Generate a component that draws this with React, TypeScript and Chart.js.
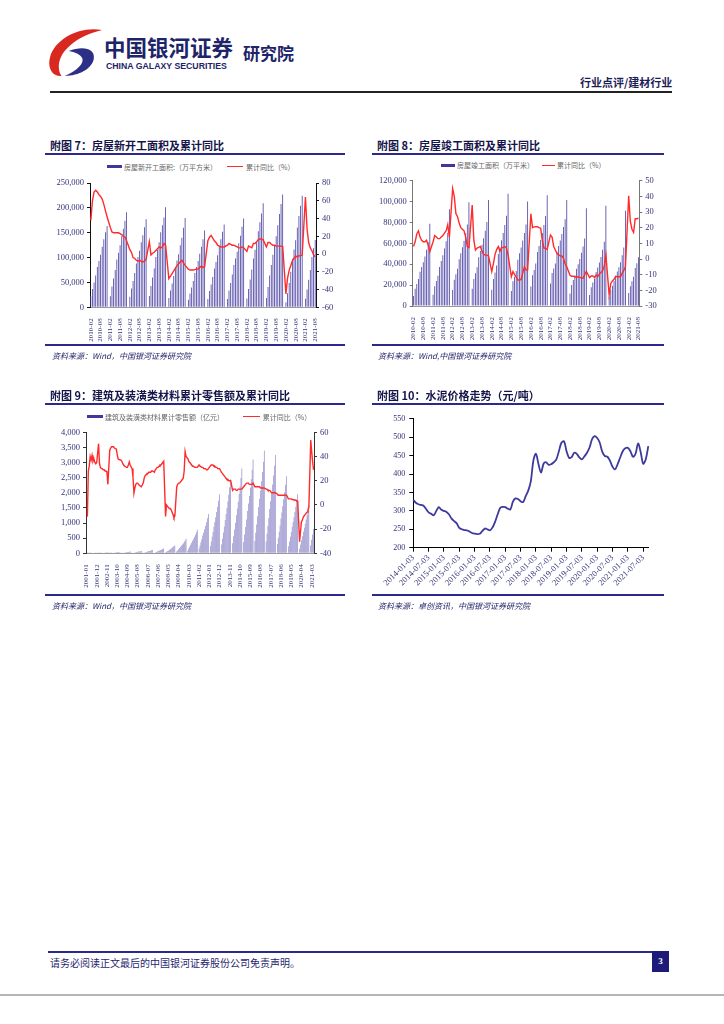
import React, { useEffect, useRef } from "react";
import { Chart, registerables } from "chart.js";
Chart.register(...registerables);

const FONT_CJK = "'Noto Sans CJK SC', sans-serif";
const FONT_NUM = "'Liberation Serif', serif";
const NAVY = "#2b2a8c";
const BAR_COLOR = "#3f3799";
const RED = "#ff2b2b";
const TICK_COLOR = "#33337a";

function monthRange(start: string, end: string): string[] {
  const [sy, sm] = start.split("-").map(Number);
  const [ey, em] = end.split("-").map(Number);
  const out: string[] = [];
  let y = sy, m = sm;
  while (y < ey || (y === ey && m <= em)) {
    out.push(`${y}-${String(m).padStart(2, "0")}`);
    m++;
    if (m > 12) { m = 1; y++; }
  }
  return out;
}

// ---------- Chart 7: 房屋新开工面积 ----------
const MONTHS_7 = monthRange("2010-02", "2021-08");
const XTICKS_7 = ["2010-02","2010-08","2011-02","2011-08","2012-02","2012-08","2013-02","2013-08","2014-02","2014-08","2015-02","2015-08","2016-02","2016-08","2017-02","2017-08","2018-02","2018-08","2019-02","2019-08","2020-02","2020-08","2021-02","2021-08"];
const NEW_STARTS = [
  22000, 37000, 50000, 64000, 81000, 93000, 106000, 122000, 137000, 151000, 163600,
  null, 22300, 42000, 58000, 75000, 96000, 110000, 125000, 143000, 158000, 174000, 191200,
  null, 21000, 38000, 53000, 69000, 88000, 101000, 114000, 131000, 145000, 161000, 177300,
  null, 22800, 43000, 60000, 78000, 101000, 116000, 131000, 151000, 165000, 181000, 201200,
  null, 18600, 34000, 48000, 63000, 81000, 94000, 107000, 125000, 140000, 160000, 179600,
  null, 15000, 28000, 40000, 53000, 69000, 81000, 93000, 108000, 122000, 137000, 154500,
  null, 16900, 33000, 46000, 61000, 78000, 91000, 105000, 122000, 137000, 152000, 166900,
  null, 16800, 34000, 49000, 66000, 85000, 98000, 112000, 129000, 144000, 162000, 178700,
  null, 17700, 37000, 56000, 76000, 98000, 116000, 133000, 153000, 171000, 188900, 209300,
  null, 18800, 41000, 64000, 85000, 106000, 125000, 143000, 165000, 188000, 208000, 227200,
  null, 10400, 28200, 48700, 71400, 97500, 116200, 135100, 160400, 183700, 204200, 224400,
  null, 17000, 36000, 55700, 75000, 101000, 119000, 135500,
];
const NEW_STARTS_YOY = [
  38, 60, 70, 72, 70, 67, 65, 62, 56, 49, 42,
  null, 30, 25, 24, 24, 24, 24, 23, 22, 20, 19, 15,
  null, 5, 2, -4, -5, -7, -8, -7, -8, -9, -8, -6,
  null, 14, -1, 1, 2, 4, 6, 8, 7, 8, 12, 10,
  null, -27.8, -25, -22, -19, -16, -13, -11, -9, -7, -10, -12.8,
  null, -17, -18, -18, -18, -17.5, -17, -17, -15, -13.6, -15, -14,
  null, 15, 19, 21, 18, 15, 13, 10, 9, 8, 8, 8,
  null, 10, 12, 11, 10, 10, 9, 8, 7, 7, 8, 7,
  null, 3, 9, 8, 7, 12, 12, 14, 16, 17, 17, 16,
  null, 8, 13, 13, 11, 10, 10, 9, 9, 9, 9, 8.5,
  null, -44.9, -27.2, -18.4, -12.8, -7.6, -4.5, -2.1, -3.4, -1.8, -2, -1.2,
  null, 64.3, 28.2, 12.8, 6.9, 3.8, -0.9, -3.2,
];

// ---------- Chart 8: 房屋竣工面积 ----------
const MONTHS_8 = monthRange("2010-02", "2021-08");
const XTICKS_8 = XTICKS_7;
const COMPLETIONS = [
  9600, 16500, 21000, 25800, 32800, 37300, 42000, 47500, 53800, 61000, 78700,
  null, 10700, 19000, 24000, 29000, 37300, 43000, 48700, 55000, 62000, 70200, 92600,
  null, 15400, 25200, 30500, 35600, 44800, 50500, 56200, 62500, 69700, 78000, 99400,
  null, 16600, 25900, 31300, 37000, 46600, 52600, 58700, 65000, 72000, 80500, 101400,
  null, 15500, 25800, 32000, 38900, 49900, 56300, 63000, 70000, 77600, 86500, 107500,
  null, 14400, 23600, 28000, 33500, 44400, 50500, 56000, 62800, 70000, 78000, 100000,
  null, 18600, 29500, 34500, 40600, 51800, 57400, 63200, 70000, 77600, 86100, 106100,
  null, 21500, 31500, 36000, 40800, 51800, 57500, 62700, 69000, 75600, 83000, 101500,
  null, 12000, 20000, 25000, 29500, 35700, 40000, 45000, 51000, 57000, 64700, 93500,
  null, 10600, 18000, 22600, 26300, 32500, 36900, 41600, 47000, 53800, 61500, 95900,
  null, 8800, 15400, 19400, 24000, 28600, 33000, 37000, 42000, 48700, 56000, 91200,
  null, 12400, 19000, 23700, 28000, 36500, 41000, 46700,
];
const COMPLETIONS_YOY = [
  8, 11, 16, 18, 14, 12, 11, 11, 12, 9, 4.7,
  null, 11, 15, 14, 13, 13, 14, 15, 16.5, 18, 22, 14,
  null, 45, 40, 29, 27, 23, 20, 19, 18, 14, 8, 7.3,
  null, 34.5, 12, 5.7, 7, 7.5, 8, 5, 3, 2.6, 2.5, 2,
  null, -8, -3, 3, 6, 8, 5, 7, 7.5, 8, 7, 2.6,
  null, -11.3, -8, -10, -11.5, -13.4, -13.4, -13, -9, -4.9, -7, -6.9,
  null, 28.9, 20, 20.5, 20.6, 20.6, 20, 19.6, 12, 7, 6.8, 6.1,
  null, 15.3, 14, 8, 5.7, 3.5, 2.6, 2, 1.9, 0.4, -3, -5,
  null, -10.4, -11, -11, -11.5, -11.3, -11.5, -11.7, -12, -12.3, -10, -7.8,
  null, -11.9, -10.8, -10.8, -11.7, -10.2, -11.3, -9.5, -8.6, -7.5, -4.5, 2.6,
  null, -22.9, -15.8, -14, -13, -11, -11.3, -11.2, -11.3, -9, -7.3, -4.9,
  null, 40.4, 24, 19, 17, 25.7, 25.7, 26,
];

// ---------- Chart 9: 建筑及装潢类材料 ----------
const MONTHS_9 = monthRange("2001-01", "2021-05");
const XTICKS_9 = ["2001-01","2001-12","2002-11","2003-10","2004-09","2005-08","2006-07","2007-06","2008-05","2009-04","2010-03","2011-02","2012-01","2012-12","2013-11","2014-10","2015-09","2016-08","2017-07","2018-06","2019-05","2020-04","2021-03"];
const RETAIL_SALES = [
  null, 3, 6, 8, 10, 13, 15, 17, 20, 22, 25, 28,
  null, 4, 7, 10, 13, 16, 19, 21, 25, 28, 31, 35,
  null, 5, 9, 13, 16, 20, 24, 27, 32, 36, 40, 45,
  null, 7, 12, 17, 22, 27, 32, 37, 42, 47, 53, 60,
  null, 10, 16, 22, 29, 36, 42, 49, 56, 63, 71, 80,
  null, 13, 22, 31, 40, 50, 58, 67, 77, 87, 98, 110,
  null, 19, 32, 45, 58, 72, 85, 98, 112, 126, 142, 160,
  null, 31, 52, 73, 94, 117, 138, 159, 182, 205, 231, 260,
  null, 58, 96, 134, 173, 216, 254, 293, 336, 379, 427, 480,
  null, 94, 156, 218, 281, 351, 413, 476, 546, 616, 694, 780,
  null, 156, 260, 364, 468, 585, 689, 793, 910, 1027, 1157, 1300,
  null, 234, 390, 546, 702, 878, 1034, 1190, 1365, 1541, 1736, 1950,
  null, 294, 490, 686, 882, 1103, 1299, 1495, 1715, 1936, 2181, 2450,
  null, 336, 560, 784, 1008, 1260, 1484, 1708, 1960, 2212, 2492, 2800,
  null, 372, 620, 868, 1116, 1395, 1643, 1891, 2170, 2449, 2759, 3100,
  null, 408, 680, 952, 1224, 1530, 1802, 2074, 2380, 2686, 3026, 3400,
  null, 390, 650, 910, 1170, 1463, 1723, 1983, 2275, 2568, 2893, 3250,
  null, 306, 510, 714, 918, 1148, 1352, 1556, 1785, 2015, 2270, 2550,
  null, 234, 390, 546, 702, 878, 1034, 1190, 1365, 1541, 1736, 1950,
  null, 150, 290, 430, 560, 710, 845, 980, 1120, 1260, 1420, 1600,
  null, 260, 450, 620, 800,
];
const RETAIL_YOY = [
  null, -9.7, 28, 32, 40, 37, 41, 36, 38, 35, 34, 35,
  null, 50.6, 34, 31, 30, 30, 29, 29, 28, 28, 27, 17,
  null, 45, 47, 48, 48, 48, 47, 46.5, 46.4, 42, 38, 37.5,
  null, 37, 36, 34, 33, 32, 31.5, 31, 31, 33, 35.5, 33,
  null, 30, 23, 9.6, 14, 17, 18, 18, 17, 16, 15.5, 15,
  null, 18, 22, 24, 25, 26, 26, 27, 27, 27, 28, 28,
  null, 27, 29, 30, 31, 31, 32, 33, 33, 34, 35, 36,
  null, -9.6, 0, -1, -2, -3, -3, -4, -6, -8, -10.5, -9,
  null, 15, 17, 18, 18, 19, 20, 21, 22, 28, 44, 40,
  null, 38, 36, 35, 34, 33, 32, 32, 31, 31, 31, 31,
  null, 33, 32, 32, 31, 31, 30, 30, 30, 29, 29, 30,
  null, 32, 33, 33, 33, 32, 32, 31, 31, 30, 30, 30,
  null, 27, 26, 25, 24, 23, 22, 21, 21, 20, 20, 20,
  null, 12, 13, 13, 13, 12, 12, 13, 13, 13, 13, 13,
  null, 15, 16, 17, 18, 18, 18, 17, 17, 17, 17, 18,
  null, 15, 15, 15, 15, 15, 15, 14, 14, 14, 14, 14,
  null, 13, 13, 12, 12, 12, 11, 10, 10, 10, 10, 10,
  null, 9, 8, 8, 8, 8, 8, 8, 8, 8, 8, 8,
  null, 5, 5, 5, 5, 4.5, 4.5, 4, 4, 4, 3, 3,
  null, -30.4, -22, -14, -12.5, -10, -9, -8, -7, -6, -4, -1.6,
  null, 53.6, 44, 36, 29,
];

// ---------- Chart 10: 水泥价格 ----------
const DATES_10 = monthRange("2014-01", "2021-09").map((m) => `${m}-03`);
const XTICKS_10 = ["2014-01-03","2014-07-03","2015-01-03","2015-07-03","2016-01-03","2016-07-03","2017-01-03","2017-07-03","2018-01-03","2018-07-03","2019-01-03","2019-07-03","2020-01-03","2020-07-03","2021-01-03","2021-07-03"];
const CEMENT_PRICE = [
  330, 322, 318, 316, 314, 305, 296, 292, 288, 300, 310, 303,
  300, 297, 290, 279, 272, 266, 254, 250, 248, 247, 244, 240,
  238, 237, 238, 245, 252, 250, 247, 255, 270, 290, 308, 311,
  310, 306, 304, 325, 334, 332, 326, 324, 340, 355, 380, 436,
  455, 427, 404, 428, 432, 425, 427, 432, 440, 462, 485, 489,
  462, 444, 446, 458, 455, 445, 440, 448, 458, 472, 495, 503,
  498, 485, 460, 449, 447, 436, 420, 413, 427, 445, 462, 470,
  471, 462, 447, 455, 483, 460, 428, 440, 476,
];

type Box = { left: number; top: number; width: number; height: number };

function ChartCanvas({ box, make }: { box: Box; make: () => any }) {
  const ref = useRef<HTMLCanvasElement | null>(null);
  useEffect(() => {
    if (!ref.current) return;
    const chart = new Chart(ref.current, make());
    return () => chart.destroy();
  }, []);
  return (
    <div style={{ position: "absolute", left: box.left, top: box.top, width: box.width, height: box.height }}>
      <canvas ref={ref} width={box.width} height={box.height} style={{ display: "block", width: box.width, height: box.height }} />
    </div>
  );
}

const numFmt = (v: any) => Number(v).toLocaleString("en-US");

function dualConfig(p: {
  labels: string[]; xticks: string[]; bars: any[]; line: any[];
  yMax: number; yStep: number; y1Min: number; y1Max: number; y1Step: number;
  leftW: number; rightW: number; xH: number; padTop: number; axisColor: string;
  barPct: number; barColor: string; barLabel: string; lineLabel: string;
}) {
  return {
    type: "bar",
    data: {
      labels: p.labels,
      datasets: [
        { type: "line", label: p.lineLabel, data: p.line, yAxisID: "y1", borderColor: RED, borderWidth: 1.4,
          pointRadius: 0, tension: 0, spanGaps: true, fill: false },
        { type: "bar", label: p.barLabel, data: p.bars, yAxisID: "y", backgroundColor: p.barColor,
          barPercentage: p.barPct, categoryPercentage: 1 },
      ],
    },
    options: {
      responsive: false, maintainAspectRatio: false, animation: false, devicePixelRatio: 1,
      layout: { autoPadding: false, padding: { top: p.padTop, left: 0, right: 0, bottom: 0 } },
      plugins: { legend: { display: false }, tooltip: { enabled: false } },
      scales: {
        x: {
          grid: { display: false },
          border: { display: true, color: "#999", width: 1 },
          afterFit: (s: any) => { s.height = p.xH; },
          ticks: {
            autoSkip: false, maxRotation: 90, minRotation: 90, padding: 3,
            color: TICK_COLOR, font: { family: FONT_NUM, size: 7 },
            callback: function (this: any, value: any) {
              const lab = this.getLabelForValue(value);
              return p.xticks.includes(lab) ? lab : null;
            },
          },
        },
        y: {
          position: "left", min: 0, max: p.yMax,
          grid: { display: true, drawOnChartArea: false, drawTicks: true, tickLength: 3, color: p.axisColor },
          border: { display: true, color: p.axisColor, width: 1 },
          afterFit: (s: any) => { s.width = p.leftW; },
          ticks: { stepSize: p.yStep, padding: 3, color: TICK_COLOR, font: { family: FONT_NUM, size: 8.5 }, callback: numFmt },
        },
        y1: {
          position: "right", min: p.y1Min, max: p.y1Max,
          grid: { display: true, drawOnChartArea: false, drawTicks: true, tickLength: 3, color: p.axisColor },
          border: { display: true, color: p.axisColor, width: 1 },
          afterFit: (s: any) => { s.width = p.rightW; },
          ticks: { stepSize: p.y1Step, padding: 3, color: TICK_COLOR, font: { family: FONT_NUM, size: 8.5 } },
        },
      },
    },
  };
}

function cementConfig() {
  return {
    type: "line",
    data: {
      labels: DATES_10,
      datasets: [
        { label: "水泥价格", data: CEMENT_PRICE, borderColor: "#3d3a9e", borderWidth: 1.8, pointRadius: 0, tension: 0.35, fill: false },
      ],
    },
    options: {
      responsive: false, maintainAspectRatio: false, animation: false, devicePixelRatio: 1,
      layout: { autoPadding: false, padding: { top: 7.7, left: 0, right: 15.7, bottom: 0 } },
      plugins: { legend: { display: false }, tooltip: { enabled: false } },
      scales: {
        x: {
          offset: false,
          grid: { display: true, drawOnChartArea: false, drawTicks: true, tickLength: 4, color: "#000" },
          border: { display: true, color: "#000", width: 1 },
          afterFit: (s: any) => { s.height = 47.3; },
          ticks: {
            autoSkip: false, maxRotation: 45, minRotation: 45, padding: 1,
            color: TICK_COLOR, font: { family: FONT_NUM, size: 8.5 },
            callback: function (this: any, value: any) {
              const lab = this.getLabelForValue(value);
              return XTICKS_10.includes(lab) ? lab : null;
            },
          },
        },
        y: {
          min: 200, max: 550,
          grid: { display: true, drawOnChartArea: false, drawTicks: true, tickLength: 4, color: "#000" },
          border: { display: true, color: "#000", width: 1 },
          afterFit: (s: any) => { s.width = 41.3; },
          ticks: { stepSize: 50, padding: 4, color: TICK_COLOR, font: { family: FONT_NUM, size: 8 } },
        },
      },
    },
  };
}

const abs = (l: number, t: number, extra: any = {}) => ({ position: "absolute" as const, left: l, top: t, ...extra });

function Rule({ l, t, w, h = 2, c = NAVY }: { l: number; t: number; w: number; h?: number; c?: string }) {
  return <div style={abs(l, t, { width: w, height: h, background: c })} />;
}

function Title({ l, t, text }: { l: number; t: number; text: string }) {
  return (
    <div style={abs(l, t, { font: `bold 11px ${FONT_CJK}`, lineHeight: "13px", color: "#14144a", whiteSpace: "nowrap" })}>{text}</div>
  );
}

function Source({ l, t, text }: { l: number; t: number; text: string }) {
  return (
    <div style={abs(l, t, { font: `italic 8px ${FONT_CJK}`, lineHeight: "10px", color: "#1e1e66", whiteSpace: "nowrap" })}>{text}</div>
  );
}

function LegendItem({ l, t, w, h, color, text, tl }: { l: number; t: number; w: number; h: number; color: string; text: string; tl: number }) {
  return (
    <>
      <div style={abs(l, t - h / 2, { width: w, height: h, background: color })} />
      <div style={abs(tl, t - 5, { font: `7px ${FONT_CJK}`, lineHeight: "10px", color: "#666", whiteSpace: "nowrap" })}>{text}</div>
    </>
  );
}

export default function App() {
  return (
    <div style={{ position: "absolute", left: 0, top: 0, width: 724, height: 1024, background: "#fff", overflow: "hidden" }}>
      {/* header */}
      <svg style={abs(45, 27)} width={60} height={52} viewBox="0 0 56 50">
        <path d="M54 3 C33 -1, 9 11, 4 29 C1 40, 7 48, 15 47 C10 40, 12 27, 23 18 C32 10, 43 6, 54 3 Z" fill="#d8281f" />
        <path d="M22 23 C35 18, 48 20, 46 31 C44 40, 32 47, 18 47 C30 42, 37 35, 35 30 C33 26, 28 24, 22 23 Z" fill="#2b2f86" />
      </svg>
      <div style={abs(104, 34, { font: `bold 21.5px ${FONT_CJK}`, lineHeight: "26px", color: "#1d2468", whiteSpace: "nowrap" })}>中国银河证券</div>
      <div style={abs(106, 61, { font: "bold 9px 'Liberation Sans', sans-serif", lineHeight: "11px", color: "#1d2468", whiteSpace: "nowrap", transform: "scaleX(0.97)", transformOrigin: "left" })}>CHINA GALAXY SECURITIES</div>
      <div style={abs(243, 43, { font: `bold 17px ${FONT_CJK}`, lineHeight: "20px", color: "#1d2468", whiteSpace: "nowrap" })}>研究院</div>
      <div style={abs(580, 75, { font: `bold 11px ${FONT_CJK}`, lineHeight: "14px", color: "#1d1d55", whiteSpace: "nowrap" })}>行业点评/建材行业</div>
      <Rule l={50} t={91} w={622} h={2} c="#222" />

      {/* chart 7 */}
      <Title l={50} t={138.5} text="附图 7：房屋新开工面积及累计同比" />
      <Rule l={45} t={153.3} w={300} />
      <LegendItem l={107} t={166.7} w={15} h={3} color={BAR_COLOR} text="房屋新开工面积:（万平方米）" tl={124} />
      <LegendItem l={227} t={166.7} w={16} h={1.5} color={RED} text="累计同比（%）" tl={246} />
      <ChartCanvas box={{ left: 45, top: 175, width: 300, height: 170 }} make={() => dualConfig({
        labels: MONTHS_7, xticks: XTICKS_7, bars: NEW_STARTS, line: NEW_STARTS_YOY,
        yMax: 250000, yStep: 50000, y1Min: -60, y1Max: 80, y1Step: 20,
        leftW: 45, rightW: 29, xH: 37.7, padTop: 7.5, axisColor: "#111", barPct: 0.5, barColor: "#4a42a3",
        barLabel: "房屋新开工面积:（万平方米）", lineLabel: "累计同比（%）",
      })} />
      <Rule l={45} t={344.3} w={300} />
      <Source l={52} t={351} text="资料来源：Wind，中国银河证券研究院" />

      {/* chart 8 */}
      <Title l={377} t={138.5} text="附图 8：房屋竣工面积及累计同比" />
      <Rule l={372} t={153.3} w={291.5} />
      <LegendItem l={441} t={165.3} w={14} h={3} color={BAR_COLOR} text="房屋竣工面积（万平米）" tl={457} />
      <LegendItem l={541.5} t={165.3} w={13.5} h={1.5} color={RED} text="累计同比（%）" tl={557} />
      <ChartCanvas box={{ left: 372, top: 172, width: 292, height: 173 }} make={() => dualConfig({
        labels: MONTHS_8, xticks: XTICKS_8, bars: COMPLETIONS, line: COMPLETIONS_YOY,
        yMax: 120000, yStep: 20000, y1Min: -30, y1Max: 50, y1Step: 10,
        leftW: 40.7, rightW: 24.7, xH: 39, padTop: 8.7, axisColor: "#777", barPct: 0.5, barColor: "#4a42a3",
        barLabel: "房屋竣工面积（万平米）", lineLabel: "累计同比（%）",
      })} />
      <Rule l={372} t={344.3} w={291.5} />
      <Source l={378} t={351} text="资料来源：Wind,中国银河证券研究院" />

      {/* chart 9 */}
      <Title l={50} t={388.5} text="附图 9：建筑及装潢类材料累计零售额及累计同比" />
      <Rule l={45} t={403} w={300} />
      <LegendItem l={86.7} t={416.7} w={16.6} h={3} color={BAR_COLOR} text="建筑及装潢类材料累计零售额（亿元）" tl={105} />
      <LegendItem l={243} t={416.7} w={17} h={1.5} color={RED} text="累计同比（%）" tl={262.7} />
      <ChartCanvas box={{ left: 45, top: 424, width: 300, height: 170 }} make={() => dualConfig({
        labels: MONTHS_9, xticks: XTICKS_9, bars: RETAIL_SALES, line: RETAIL_YOY,
        yMax: 4000, yStep: 500, y1Min: -40, y1Max: 60, y1Step: 10,
        leftW: 41, rightW: 31, xH: 40.7, padTop: 8.3, axisColor: "#333", barPct: 0.55, barColor: "#6a63b6",
        barLabel: "建筑及装潢类材料累计零售额（亿元）", lineLabel: "累计同比（%）",
      })} />
      <Rule l={45} t={594} w={300} />
      <Source l={52} t={601} text="资料来源：Wind，中国银河证券研究院" />

      {/* chart 10 */}
      <Title l={377} t={388.5} text="附图 10：水泥价格走势（元/吨）" />
      <Rule l={372} t={403} w={291.5} />
      <ChartCanvas box={{ left: 372, top: 410, width: 292, height: 185 }} make={cementConfig} />
      <Rule l={372} t={594} w={291.5} />
      <Source l={378} t={601} text="资料来源：卓创资讯，中国银河证券研究院" />

      {/* footer */}
      <Rule l={48} t={951} w={605} h={2} />
      <div style={abs(652, 951, { width: 17, height: 21, background: "#1e1a78", color: "#fff", font: "bold 9px 'Liberation Serif', serif", lineHeight: "21px", textAlign: "center" })}>3</div>
      <div style={abs(50, 956, { font: `10px ${FONT_CJK}`, lineHeight: "13px", color: "#1f1f6f", whiteSpace: "nowrap" })}>请务必阅读正文最后的中国银河证券股份公司免责声明。</div>
      <Rule l={0} t={994} w={724} h={2} c="#b5b5b5" />
    </div>
  );
}
